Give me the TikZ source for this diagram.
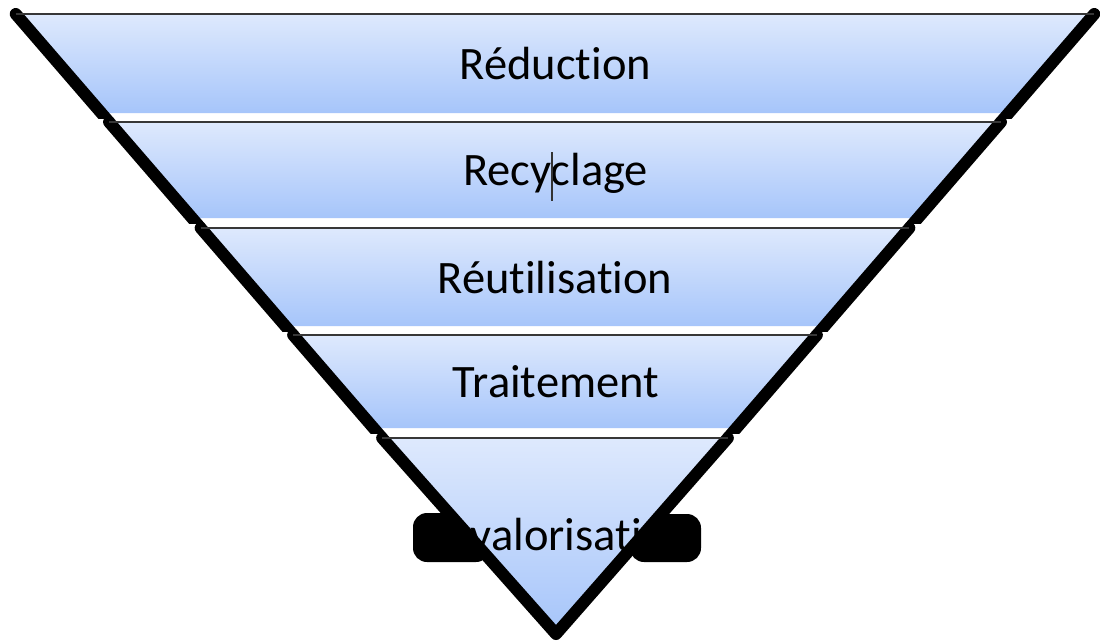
\documentclass[tikz,border=0pt]{standalone}
\usepackage{fontspec}
\setmainfont{Carlito}[Ligatures={NoCommon}]
\usetikzlibrary{calc}
\definecolor{bandtop}{RGB}{222,233,253}
\definecolor{bandbot}{RGB}{166,197,250}
\definecolor{rimgray}{RGB}{55,55,55}
\newcommand\drawband[2]{%
  \shade[fillband] ({555-hw(#1)},#1) -- ({555+hw(#1)},#1) -- ({555+hw(#2)},#2) -- ({555-hw(#2)},#2) -- cycle;
  \begin{scope}
    \clip (0,#1-12) rectangle (1100,#2+5);
    \draw[sideline] ({555-hw(#1)},#1) -- ({555-hw(#2+10)},#2+10);
    \draw[sideline] ({555+hw(#1)},#1) -- ({555+hw(#2+10)},#2+10);
  \end{scope}
  \draw[rimline] ({555-hw(#1)},#1) -- ({555+hw(#1)},#1);
}
\begin{document}
\begin{tikzpicture}[x=1pt,y=-1pt,
  declare function={hw(\t)=0.8642*(638-\t);},
  fillband/.style={top color=bandtop,bottom color=bandbot},
  sideline/.style={line width=12pt,line cap=round,line join=round,black},
  rimline/.style={line width=2pt,rimgray},
  blob/.style={fill=black,rounded corners=14pt},
  label/.style={font=\fontsize{46.5}{56}\selectfont,text=black,inner sep=0pt,anchor=base}]
\useasboundingbox (0,0) rectangle (1100,643);
\fill[white] (0,0) rectangle (1100,643);

\drawband{14}{113}
\drawband{122}{218}
\drawband{228}{326}
\drawband{335}{428}

% black blobs behind the last word, outside the triangle
\coordinate (lb1) at (413,513);
\coordinate (lb2) at (490,562);
\coordinate (rb1) at (630,514);
\coordinate (rb2) at (701,562);
\fill[blob] (lb1) rectangle (lb2);
\fill[blob] (rb1) rectangle (rb2);

% bottom triangle
\coordinate (tl) at ({555-hw(438)},438);
\coordinate (tr) at ({555+hw(438)},438);
\coordinate (apex) at (556,634);
\shade[fillband] (tl) -- (tr) -- (apex) -- cycle;
\draw[sideline] (tl) -- (apex) -- (tr);
\draw[rimline] (tl) -- (tr);

\node[label] (reduction) at (555.5,79) {Réduction};
\node[label] (recyclage) at (555.5,185) {Recyclage};
\node[label] (reutil) at (555,293) {Réutilisation};
\node[label] (traitement) at (556,397) {Traitement};
\node[label] (revalo) at (557,550) {Revalorisation};

% text cursor
\coordinate (curtop) at (552,152);
\coordinate (curbot) at (552,201);
\draw[line width=1.3pt,black!80] (curtop) -- (curbot);
\end{tikzpicture}
\end{document}
